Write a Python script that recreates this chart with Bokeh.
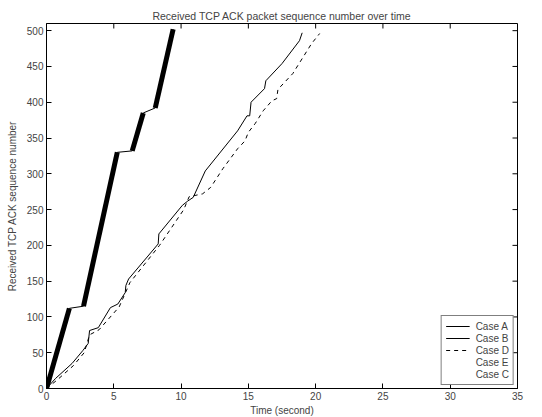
import math
from bokeh.plotting import figure
from bokeh.models import Range1d, FixedTicker, Legend, LegendItem
from bokeh.embed import file_html
from bokeh.resources import INLINE

# ---- data ----
case_a_t = [0, 1.7, 2.75, 5.26, 6.37, 7.19, 8.08, 9.41]
case_a_seq = [0, 112, 115, 330, 332, 385, 392, 502]

case_b_t = [0, 0.67, 1.9, 2.7, 3.1, 3.2, 3.85, 4.75, 5.3, 5.85, 5.9, 6.1, 8.3, 8.35,
            10.1, 10.5, 10.9, 11.8, 14.2, 14.9, 15.1, 15.2, 16.2, 16.3, 17.5, 18.8, 19.0]
case_b_seq = [0, 14, 35, 53, 63, 81, 85, 113, 118, 134, 144, 153, 202, 216,
              256, 262, 267, 304, 360, 381, 381, 400, 419, 430, 454, 486, 497]

case_d_t = [0, 0.8, 2.0, 2.8, 3.2, 3.9, 5.4, 6.2, 8.4, 10.2, 10.6, 11.6, 12.2, 13.1,
            14.2, 14.75, 15.0, 15.5, 16.1, 16.75, 17.1, 17.2, 18.3, 19.7, 20.3]
case_d_seq = [0, 12, 32, 50, 75, 82, 114, 148, 200, 250, 268, 272, 281, 307,
              335, 346, 358, 370, 388, 402, 405, 418, 440, 482, 496]

x_ticks = [0, 5, 10, 15, 20, 25, 30, 35]
y_ticks = [0, 50, 100, 150, 200, 250, 300, 350, 400, 450, 500]
x_max = 35
y_max = 510

FONT = "Liberation Sans"

p = figure(frame_width=471, frame_height=365, output_backend="svg", toolbar_location=None,
           x_range=Range1d(0, x_max), y_range=Range1d(0, y_max),
           min_border_left=46, min_border_top=23, min_border_right=12, min_border_bottom=10,
           title="Received TCP ACK packet sequence number over time")
p.title.align = "center"
p.title.text_font = FONT
p.title.text_font_size = "10.5px"
p.title.text_font_style = "normal"
p.title.standoff = 4
p.xgrid.visible = False
p.ygrid.visible = False
p.outline_line_color = "black"
p.background_fill_color = "white"

p.xaxis.axis_label = "Time (second)"
p.yaxis.axis_label = "Received TCP ACK sequence number"
for ax in (p.xaxis[0], p.yaxis[0]):
    ax.axis_label_text_font = FONT
    ax.axis_label_text_font_size = "10px"
    ax.axis_label_text_font_style = "normal"
    ax.major_label_text_font = FONT
    ax.major_label_text_font_size = "10px"
    ax.major_tick_in = 5
    ax.major_tick_out = 0
    ax.minor_tick_in = 0
    ax.minor_tick_out = 0
    ax.major_label_standoff = 3
    ax.axis_label_standoff = 2
p.yaxis.axis_label_standoff = 6
p.xaxis.ticker = FixedTicker(ticks=x_ticks)
p.yaxis.ticker = FixedTicker(ticks=y_ticks)

# mirrored ticks on top and right (inside the box)
p.ray(x=x_ticks, y=[y_max] * len(x_ticks), length=5, length_units="screen",
      angle=-math.pi / 2, line_color="black", line_width=1)
p.ray(x=[x_max] * len(y_ticks), y=y_ticks, length=5, length_units="screen",
      angle=math.pi, line_color="black", line_width=1)

# Case A: thin line plus dense (thick) rising segments
ra = p.line(case_a_t, case_a_seq, line_color="black", line_width=1)
p.segment(x0=case_a_t[0::2], y0=case_a_seq[0::2], x1=case_a_t[1::2], y1=case_a_seq[1::2],
          line_color="black", line_width=5)
rb = p.line(case_b_t, case_b_seq, line_color="black", line_width=1)
rd = p.line(case_d_t, case_d_seq, line_color="black", line_width=1, line_dash="4 4")
re = p.line([], [], line_alpha=0)
rc = p.line([], [], line_alpha=0)
ma = p.scatter([], [], marker="cross", size=6, line_color="black")

legend = Legend(items=[
    LegendItem(label="Case A", renderers=[ra, ma]),
    LegendItem(label="Case B", renderers=[rb]),
    LegendItem(label="Case D", renderers=[rd]),
    LegendItem(label="Case E", renderers=[re]),
    LegendItem(label="Case C", renderers=[rc]),
], location="bottom_right")
legend.label_text_font = FONT
legend.label_text_font_size = "10px"
legend.label_height = 12
legend.glyph_height = 12
legend.glyph_width = 24
legend.spacing = 0
legend.padding = 4
legend.margin = 3
legend.border_line_color = "black"
legend.label_standoff = 6
p.add_layout(legend)

open("out.html", "w").write(file_html(p, INLINE))
